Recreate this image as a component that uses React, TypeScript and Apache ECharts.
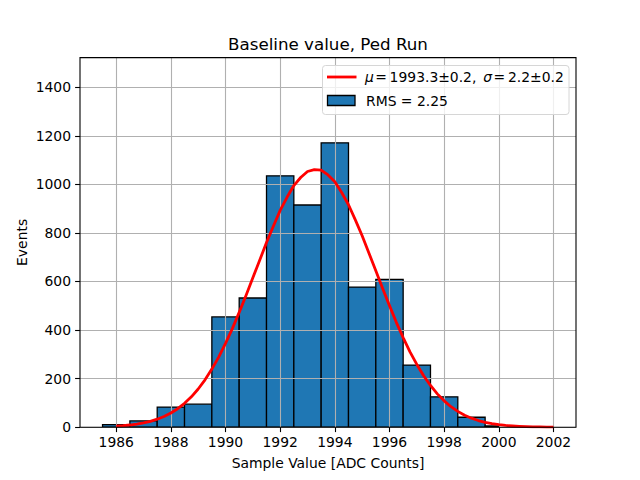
import React, { useEffect, useRef } from "react";
import * as echarts from "echarts";

// Histogram bins (edges) and counts
const binEdges = [1985.5, 1986.5, 1987.5, 1988.5, 1989.5, 1990.5, 1991.5, 1992.5, 1993.5, 1994.5, 1995.5, 1996.5, 1997.5, 1998.5, 1999.5, 2000];
const binCounts = [11, 26, 83, 95, 454, 532, 1035, 915, 1171, 577, 609, 256, 125, 41, 5];

// Gaussian fit curve (step 0.25)
const fitX = [
  1986, 1986.25, 1986.5, 1986.75, 1987, 1987.25, 1987.5, 1987.75,
  1988, 1988.25, 1988.5, 1988.75, 1989, 1989.25, 1989.5, 1989.75,
  1990, 1990.25, 1990.5, 1990.75, 1991, 1991.25, 1991.5, 1991.75,
  1992, 1992.25, 1992.5, 1992.75, 1993, 1993.25, 1993.5, 1993.75,
  1994, 1994.25, 1994.5, 1994.75, 1995, 1995.25, 1995.5, 1995.75,
  1996, 1996.25, 1996.5, 1996.75, 1997, 1997.25, 1997.5, 1997.75,
  1998, 1998.25, 1998.5, 1998.75, 1999, 1999.25, 1999.5, 1999.75,
  2000, 2000.25, 2000.5, 2000.75, 2001, 2001.25, 2001.5, 2001.75, 2002,
];
const fitY = [
  4.3, 6.2, 9, 12.6, 17.6, 24.2, 32.9, 44,
  58.4, 76.1, 98.4, 125, 157.4, 195, 239.2, 288.6,
  345.1, 405.8, 472.9, 542, 615.5, 687.4, 760.7, 827.8,
  892.7, 946.7, 995, 1028.3, 1053, 1061, 1058.6, 1039,
  1010.6, 966.6, 916, 853.9, 788.6, 716.4, 644.7, 570.7,
  500.6, 431.8, 369, 310.2, 258.4, 211.7, 171.9, 137.2,
  108.5, 84.4, 65.1, 49.3, 37.1, 27.4, 20, 14.4,
  10.3, 7.2, 5, 3.4, 2.3, 1.5, 1, 0.7, 0.4,
];

const xTicks = [1986, 1988, 1990, 1992, 1994, 1996, 1998, 2000, 2002];
const yTicks = [0, 200, 400, 600, 800, 1000, 1200, 1400];

const titleText = "Baseline value, Ped Run";
const xLabel = "Sample Value [ADC Counts]";
const yLabel = "Events";
const rmsLabel = "RMS = 2.25";

const X_MIN = 1984.675;
const X_MAX = 2002.825;
const Y_MAX = 1522;

const W = 640;
const H = 480;
const L = 80;
const R = 576;
const T = 57.6;
const B = 427.2;
const FONT = "DejaVu Sans";

export default function App() {
  const ref = useRef<HTMLDivElement>(null);
  useEffect(() => {
    document.body.style.margin = "0";
    const chart = echarts.init(ref.current!, null, { renderer: "svg" });
    const histData = binCounts.map((c, i) => [binEdges[i], binEdges[i + 1], c]);
    const fitData = fitX.map((x, i) => [x, fitY[i]]);
    const cx = (L + R) / 2;
    const cy = (T + B) / 2;
    chart.setOption({
      animation: false,
      backgroundColor: "#ffffff",
      grid: { left: L, right: W - R, top: T, bottom: H - B, containLabel: false },
      xAxis: {
        type: "value",
        min: X_MIN,
        max: X_MAX,
        axisLine: { show: false },
        axisTick: { show: true, length: 4.9, customValues: xTicks, lineStyle: { color: "#000", width: 1.1 } },
        axisLabel: {
          customValues: xTicks,
          formatter: (v: number) => String(v),
          margin: 8,
          color: "#000",
          fontFamily: FONT,
          fontSize: 13.9,
        },
        splitLine: { show: true, lineStyle: { color: "#b0b0b0", width: 1.1 } },
      },
      yAxis: {
        type: "value",
        min: 0,
        max: Y_MAX,
        axisLine: { show: false },
        axisTick: { show: true, length: 4.9, customValues: yTicks, lineStyle: { color: "#000", width: 1.1 } },
        axisLabel: {
          customValues: yTicks,
          formatter: (v: number) => String(v),
          margin: 9,
          color: "#000",
          fontFamily: FONT,
          fontSize: 13.9,
        },
        splitLine: { show: true, lineStyle: { color: "#b0b0b0", width: 1.1 } },
      },
      series: [
        {
          type: "custom",
          z: -1,
          data: histData,
          encode: { x: [0, 1], y: 2 },
          clip: true,
          renderItem: (params: any, api: any) => {
            const p0 = api.coord([api.value(0), api.value(2)]);
            const p1 = api.coord([api.value(1), 0]);
            return {
              type: "rect",
              shape: { x: p0[0], y: p0[1], width: p1[0] - p0[0], height: p1[1] - p0[1] },
              style: { fill: "#1f77b4", stroke: "#000", lineWidth: 1.3 },
            };
          },
        },
        {
          type: "line",
          z: 5,
          data: fitData,
          smooth: false,
          showSymbol: false,
          symbol: "none",
          lineStyle: { color: "#ff0000", width: 2.8, join: "round" },
        },
      ],
      graphic: [
        {
          type: "rect",
          z: 100,
          shape: { x: L, y: T, width: R - L, height: B - T },
          style: { fill: "none", stroke: "#000", lineWidth: 1.1 },
          silent: true,
        },
        {
          type: "text",
          z: 100,
          x: cx,
          y: 44,
          style: { text: titleText, fontFamily: FONT, fontSize: 16.7, fill: "#000", align: "center", verticalAlign: "middle" },
        },
        {
          type: "text",
          z: 100,
          x: cx,
          y: 463,
          style: { text: xLabel, fontFamily: FONT, fontSize: 13.9, fill: "#000", align: "center", verticalAlign: "middle" },
        },
        {
          type: "text",
          z: 100,
          x: 22,
          y: cy,
          rotation: Math.PI / 2,
          style: { text: yLabel, fontFamily: FONT, fontSize: 13.9, fill: "#000", align: "center", verticalAlign: "middle" },
        },
        // Legend
        {
          type: "rect",
          z: 100,
          shape: { x: 322.5, y: 65.5, width: 246.5, height: 49, r: 3 },
          style: { fill: "rgba(255,255,255,0.8)", stroke: "#d6d6d6", lineWidth: 1 },
        },
        {
          type: "line",
          z: 101,
          shape: { x1: 327, y1: 77, x2: 356.5, y2: 77 },
          style: { stroke: "#ff0000", lineWidth: 2.8 },
        },
        {
          type: "text",
          z: 101,
          x: 365,
          y: 77,
          style: {
            text: "{i|μ}{n|\u200A=\u20091993.3±0.2,\u2002}{i|σ}{n|\u200A=\u20092.2±0.2}",
            verticalAlign: "middle",
            align: "left",
            rich: {
              i: { fontFamily: FONT, fontSize: 13.9, fontStyle: "italic", fill: "#000" },
              n: { fontFamily: FONT, fontSize: 13.9, fill: "#000" },
            },
          },
        },
        {
          type: "rect",
          z: 101,
          shape: { x: 327.5, y: 95.5, width: 27.5, height: 10 },
          style: { fill: "#1f77b4", stroke: "#000", lineWidth: 1.3 },
        },
        {
          type: "text",
          z: 101,
          x: 366,
          y: 101,
          style: { text: rmsLabel, fontFamily: FONT, fontSize: 13.9, fill: "#000", align: "left", verticalAlign: "middle" },
        },
      ],
    });
    return () => chart.dispose();
  }, []);
  return <div ref={ref} style={{ width: W, height: H, position: "absolute", left: 0, top: 0 }} />;
}
